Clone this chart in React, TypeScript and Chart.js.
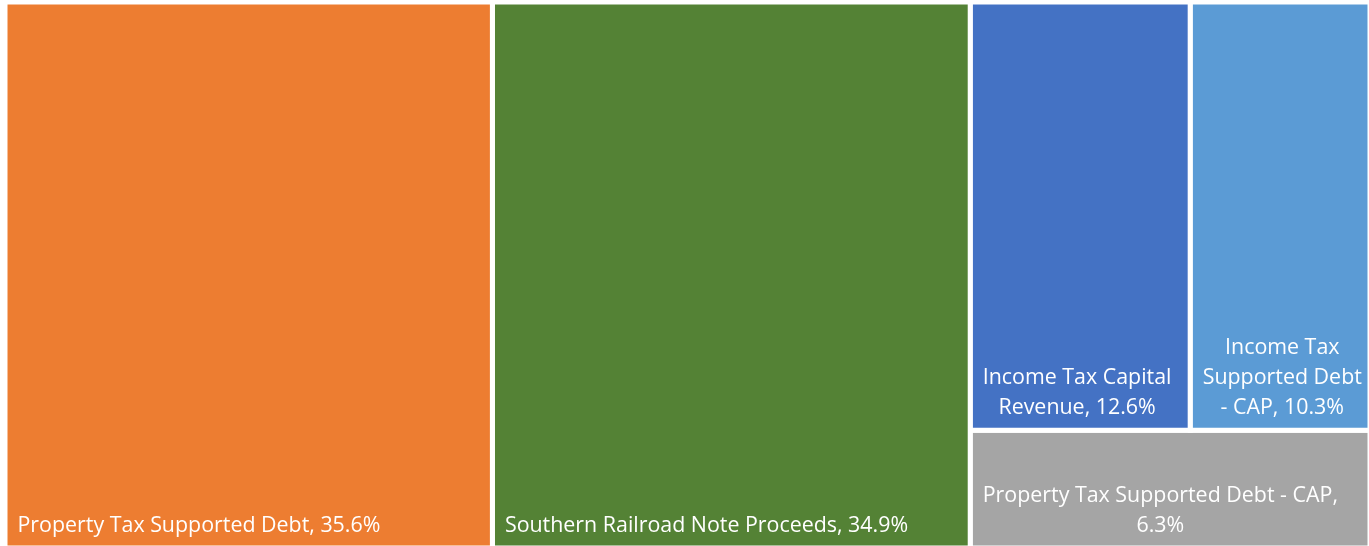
import React, { useEffect, useRef } from "react";
import { Chart, registerables } from "chart.js";

Chart.register(...registerables);

// ---- data ----
const categories = [
  "Property Tax Supported Debt",
  "Southern Railroad Note Proceeds",
  "Income Tax Capital Revenue",
  "Income Tax Supported Debt - CAP",
  "Property Tax Supported Debt - CAP",
];
const shares = [35.6, 34.9, 12.6, 10.3, 6.3];
const colors = ["#ED7D31", "#548235", "#4472C4", "#5B9BD5", "#A5A5A5"];

// ---- treemap grouping (structure only, sizes come from shares) ----
type TNode = number | { dir: "h" | "v"; children: TNode[] };
const layoutTree: TNode = {
  dir: "h",
  children: [0, 1, { dir: "v", children: [{ dir: "h", children: [2, 3] }, 4] }],
};

type Rect = { x0: number; x1: number; y0: number; y1: number };

function nodeSum(n: TNode): number {
  return typeof n === "number" ? shares[n] : n.children.reduce((s, c) => s + nodeSum(c), 0);
}

function layout(n: TNode, r: Rect, out: Rect[]) {
  if (typeof n === "number") {
    out[n] = r;
    return;
  }
  const total = nodeSum(n);
  let acc = 0;
  n.children.forEach((c) => {
    const f0 = acc / total;
    acc += nodeSum(c);
    const f1 = acc / total;
    if (n.dir === "h") {
      layout(c, { x0: r.x0 + (r.x1 - r.x0) * f0, x1: r.x0 + (r.x1 - r.x0) * f1, y0: r.y0, y1: r.y1 }, out);
    } else {
      layout(c, { x0: r.x0, x1: r.x1, y0: r.y0 + (r.y1 - r.y0) * f0, y1: r.y0 + (r.y1 - r.y0) * f1 }, out);
    }
  });
}

const rects: Rect[] = [];
layout(layoutTree, { x0: 0, x1: 1, y0: 0, y1: 1 }, rects);

const FONT = '21.4px "Open Sans"';

function wrap(ctx: CanvasRenderingContext2D, text: string, maxW: number): string[] {
  const words = text.split(" ");
  const lines: string[] = [];
  let cur = "";
  words.forEach((w) => {
    const test = cur ? cur + " " + w : w;
    if (ctx.measureText(test).width <= maxW || !cur) cur = test;
    else {
      lines.push(cur);
      cur = w;
    }
  });
  if (cur) lines.push(cur);
  return lines;
}

const labelPlugin = {
  id: "treemapLabels",
  afterDatasetsDraw(chart: any) {
    const ctx: CanvasRenderingContext2D = chart.ctx;
    const xs = chart.scales.x;
    const ys = chart.scales.y;
    ctx.save();
    ctx.font = FONT;
    ctx.fillStyle = "#ffffff";
    ctx.textAlign = "center";
    ctx.textBaseline = "alphabetic";
    rects.forEach((r, i) => {
      const left = xs.getPixelForValue(r.x0);
      const right = xs.getPixelForValue(r.x1);
      const bottom = ys.getPixelForValue(r.y1);
      const text = `${categories[i]}, ${shares[i].toFixed(1)}%`;
      const lines = wrap(ctx, text, right - left - 20);
      const blockW = Math.max(...lines.map((l) => ctx.measureText(l).width));
      const cx = left + 12.5 + blockW / 2;
      const lh = 30;
      lines.forEach((l, k) => {
        const y = bottom - 16 - (lines.length - 1 - k) * lh;
        ctx.fillText(l, cx, y);
      });
    });
    ctx.restore();
  },
};

export default function App() {
  const ref = useRef<HTMLCanvasElement>(null);
  useEffect(() => {
    if (!ref.current) return;
    const chart = new Chart(ref.current, {
      type: "line",
      data: {
        datasets: rects.map((r, i) => ({
          label: categories[i],
          data: [
            { x: r.x0, y: r.y0 },
            { x: r.x1, y: r.y0 },
            { x: r.x1, y: r.y1 },
            { x: r.x0, y: r.y1 },
            { x: r.x0, y: r.y0 },
          ],
          fill: "shape",
          backgroundColor: colors[i],
          borderColor: "#ffffff",
          borderWidth: 5,
          borderJoinStyle: "miter",
          tension: 0,
          pointRadius: 0,
          pointHoverRadius: 0,
        })),
      },
      options: {
        animation: false,
        responsive: false,
        maintainAspectRatio: false,
        events: [],
        layout: { padding: 0 },
        plugins: { legend: { display: false }, tooltip: { enabled: false } },
        scales: {
          x: { type: "linear", min: 0, max: 1, display: false },
          y: { type: "linear", min: 0, max: 1, reverse: true, display: false },
        },
      },
      plugins: [labelPlugin],
    } as any);
    return () => chart.destroy();
  }, []);
  return (
    <div style={{ position: "fixed", left: 5, top: 2, width: 1365, height: 546 }}>
      <canvas ref={ref} width={1365} height={546} style={{ display: "block" }} />
    </div>
  );
}
